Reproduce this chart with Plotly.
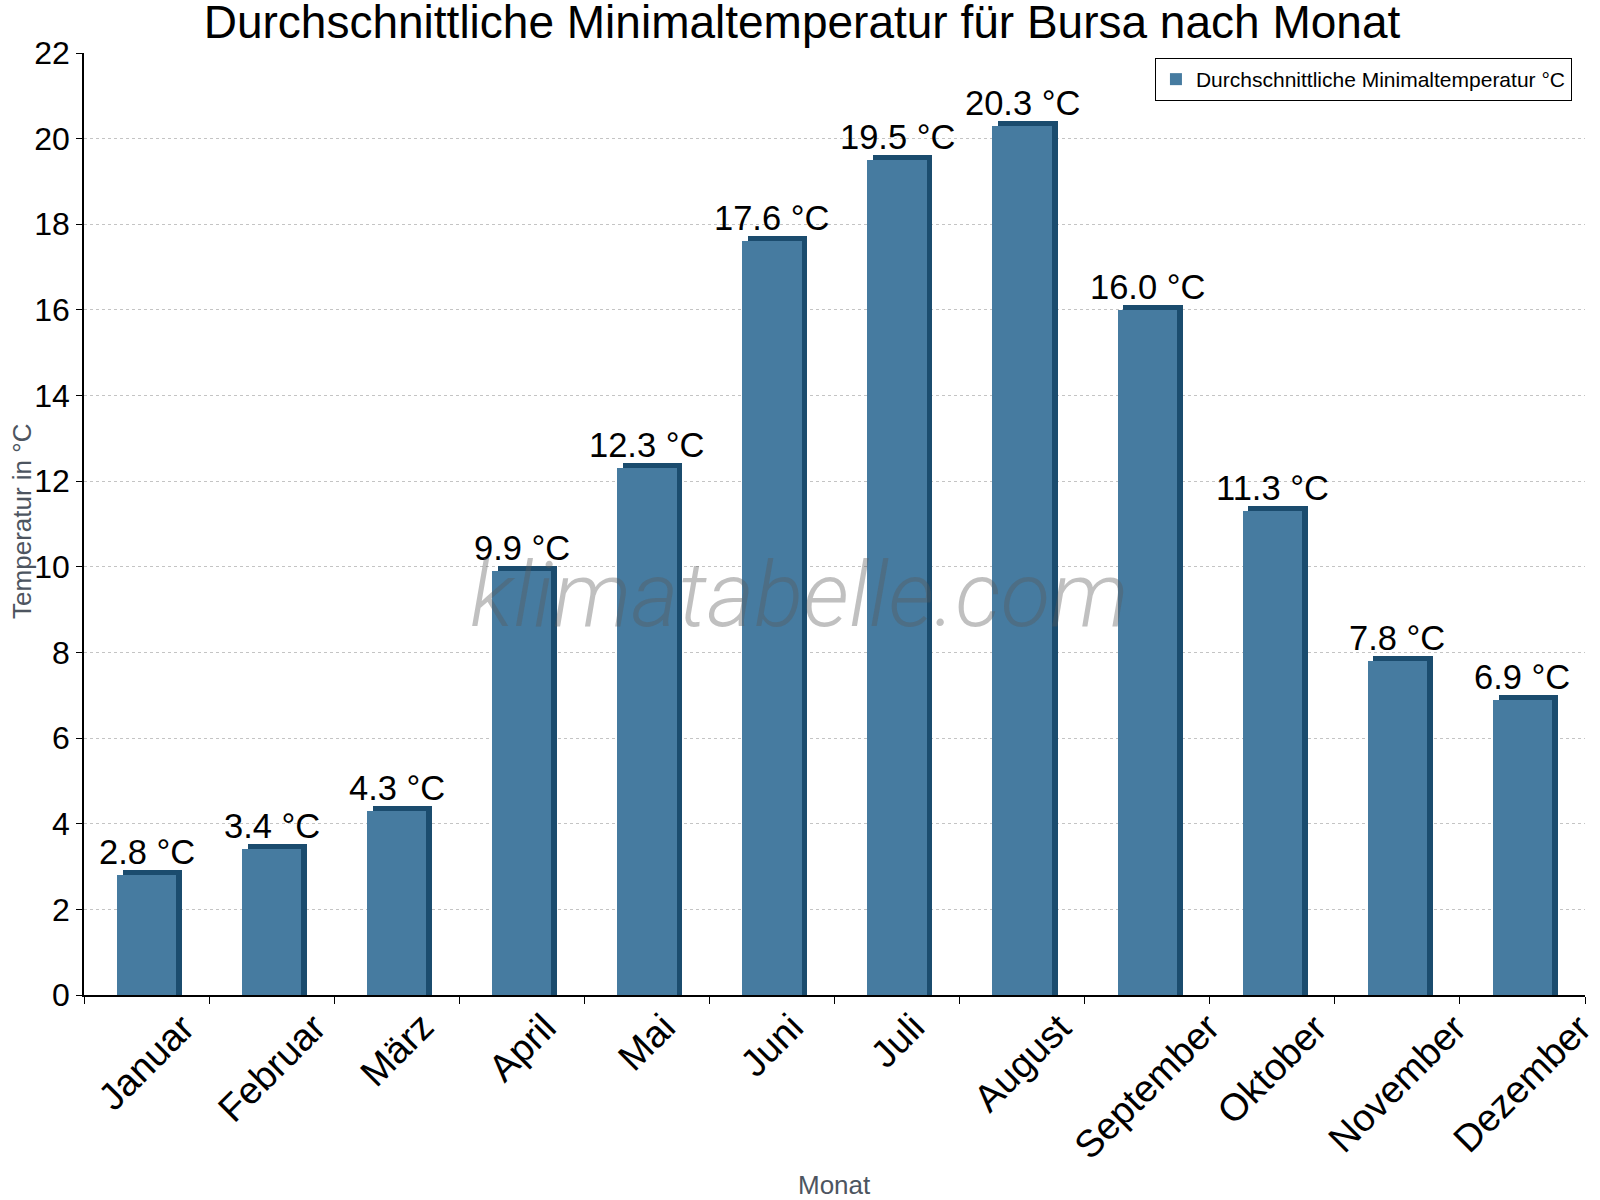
import plotly.graph_objects as go

months = ["Januar", "Februar", "März", "April", "Mai", "Juni", "Juli",
          "August", "September", "Oktober", "November", "Dezember"]
min_temp = [2.8, 3.4, 4.3, 9.9, 12.3, 17.6, 19.5, 20.3, 16.0, 11.3, 7.8, 6.9]
labels = [f"{v:.1f} °C" for v in min_temp]

series_name = "Durchschnittliche Minimaltemperatur °C"
title = "Durchschnittliche Minimaltemperatur für Bursa nach Monat"
x_title = "Monat"
y_title = "Temperatur in °C"
watermark = "klimatabelle.com"

MAIN = "#467BA0"
DARK = "#1B4C6E"
FONT = "Liberation Sans, Arial, sans-serif"
AXIS_TITLE_COLOR = "#4D5560"

depth = 0.117      # 3D depth (top strip) in data units
bar_w = 0.474
side = 0.046       # 3D depth (side strip) in category units

fig = go.Figure()
# dark "3D" back face
fig.add_trace(go.Bar(
    x=months, y=[v + depth for v in min_temp],
    width=bar_w, offset=-bar_w / 2 + side,
    marker=dict(color=DARK, line=dict(width=0)),
    showlegend=False, hoverinfo="skip",
))
# main face
fig.add_trace(go.Bar(
    x=months, y=min_temp, name=series_name,
    width=bar_w, offset=-bar_w / 2,
    marker=dict(color=MAIN, line=dict(width=0)),
    showlegend=True,
))

annotations = []
# value labels
for m, v, t in zip(months, min_temp, labels):
    annotations.append(dict(
        x=m, y=v + depth, text=t, showarrow=False, xref="x", yref="y",
        xanchor="center", yanchor="bottom", yshift=-3,
        font=dict(family=FONT, size=34.5, color="black"),
    ))
# category labels (rotated, centred under each category)
for m in months:
    annotations.append(dict(
        x=m, y=0, xref="x", yref="paper", text=m, showarrow=False,
        textangle=-45, xanchor="center", yanchor="top", yshift=-8,
        font=dict(family=FONT, size=38, color="black"),
    ))
# x-axis title
annotations.append(dict(
    x=0.5, y=-0.2017, xref="paper", yref="paper", text=x_title, showarrow=False,
    xanchor="center", yanchor="middle",
    font=dict(family=FONT, size=26, color=AXIS_TITLE_COLOR),
))
# y-axis title
annotations.append(dict(
    x=-0.0415, y=0.503, xref="paper", yref="paper", text=y_title, showarrow=False,
    textangle=-90, xanchor="center", yanchor="middle",
    font=dict(family=FONT, size=26, color=AXIS_TITLE_COLOR),
))
# watermark
annotations.append(dict(
    x=0.477, y=0.4246, xref="paper", yref="paper", text=watermark,
    showarrow=False, xanchor="center", yanchor="middle",
    font=dict(family="Roboto, sans-serif", size=91, color="rgba(90,90,90,0.38)",
              style="italic", weight=300),
))

fig.update_layout(
    width=1600, height=1200,
    barmode="overlay",
    bargap=0,
    plot_bgcolor="white", paper_bgcolor="white",
    margin=dict(l=84, r=15, t=53, b=205, autoexpand=False),
    title=dict(text=title, xref="container", x=0.50125, xanchor="center",
               yref="container", y=1 - 21.5 / 1200, yanchor="middle",
               font=dict(family=FONT, size=46, color="black")),
    font=dict(family=FONT, color="black"),
    legend=dict(x=0.9913, xanchor="right", y=0.9947, yanchor="top",
                bordercolor="black", borderwidth=1, bgcolor="white",
                font=dict(family=FONT, size=21, color="black")),
    annotations=annotations,
    xaxis=dict(
        range=[-0.5, len(months) - 0.5], autorange=False,
        showticklabels=False,
        showline=True, linecolor="black", linewidth=1.5,
        ticks="outside", tickson="boundaries", ticklen=7, tickcolor="black",
        showgrid=False,
    ),
    yaxis=dict(
        range=[0, 22], dtick=2, autorange=False,
        tickfont=dict(family=FONT, size=32, color="black"),
        showline=True, linecolor="black", linewidth=1.5,
        ticks="outside", ticklen=6, tickcolor="black",
        showgrid=True, gridcolor="#C4C4C4", griddash="dot", gridwidth=1,
        zeroline=False,
    ),
)

fig.write_html("out.html", config={"displayModeBar": False},
               post_script="document.body.style.margin='0';")
